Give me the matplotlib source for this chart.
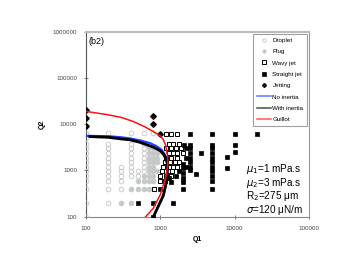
import numpy as np
import matplotlib.pyplot as plt
from matplotlib.ticker import LogLocator, FuncFormatter

plt.rcParams['font.family'] = ['Liberation Sans', 'DejaVu Sans']
plt.rcParams['mathtext.fontset'] = 'dejavusans'

# droplet (open grey circles)
drop_q1 = [100]*14 + [200]*12 + [300]*5 + [400]*9 + [500]*2 + [600]*8 + [800]
drop_q2 = [100, 200, 400, 600, 750, 950, 1200, 1500, 1900, 2400, 3000, 3800, 5000, 6500,
           200, 400, 600, 750, 950, 1200, 1500, 1900, 2400, 3000, 3800, 6500,
           400, 600, 750, 950, 1200,
           750, 950, 1200, 1500, 1900, 2400, 3000, 3800, 6500,
           750, 950,
           950, 1200, 1500, 1900, 2400, 3000, 3800, 6500,
           6500]

# plug (filled grey circles)
plug_q1 = [300, 400, 400, 500, 600, 700, 500, 600, 700, 800, 600, 700, 800,
           700, 800, 900, 700, 700, 700, 700, 700, 800, 800, 800, 800, 800, 900, 900, 900]
plug_q2 = [200, 200, 400, 400, 400, 400, 600, 600, 600, 600, 750, 750, 750,
           950, 950, 950, 1200, 1500, 1900, 2400, 3000, 1200, 1500, 1900, 2400, 3000, 1500, 1900, 2400]

# wavy jet (open squares)
wavy_q1 = [1200, 1400, 1650, 1300, 1500, 1800, 1200, 1400, 1600, 1900,
           1300, 1500, 1700, 2000, 1200, 1400, 1650, 1150, 1350, 1550, 1800,
           1100, 1300, 1500, 1700, 1050, 1250, 1450, 1000, 1200, 1400, 1000, 1150, 820]
wavy_q2 = [6000, 6000, 6000, 3800, 3800, 3800, 3000, 3000, 3000, 3000,
           2400, 2400, 2400, 2400, 1900, 1900, 1900, 1500, 1500, 1500, 1500,
           1200, 1200, 1200, 1200, 950, 950, 950, 750, 750, 750, 600, 600, 400]

# straight jet (filled squares)
straight_q1 = [800, 500, 800, 1500, 1000, 2000, 5000, 1400, 2000, 5000,
               1300, 1600, 2000, 3000, 5000, 1800, 2000, 2500, 5000,
               2000, 2200, 2500, 5000, 8000, 2000, 2500, 5000,
               2200, 2500, 5000, 8000, 2500, 3500, 5000, 10000,
               2200, 2500, 5000, 2100, 2500, 5000, 10000,
               2500, 5000, 10000, 20000]
straight_q2 = [100, 200, 200, 200, 400, 400, 400, 550, 550, 600,
               700, 750, 700, 830, 750, 950, 900, 1000, 950,
               1100, 1200, 1200, 1200, 1100, 1400, 1500, 1500,
               1900, 1900, 1900, 2000, 2400, 2400, 2400, 2500,
               3000, 3000, 3000, 3600, 3600, 3600, 3600,
               6000, 6000, 6000, 6000]

# jetting (diamonds)
jet_q1 = [100, 100, 100, 800, 800, 1000]
jet_q2 = [20000, 13500, 9000, 15000, 10000, 6000]

# model curves
noin_q1 = [100, 200, 300, 400, 550, 725, 900, 1040, 1150, 1210, 1245, 1250, 1230, 1210, 1100, 910, 810]
noin_q2 = [5600, 5500, 5200, 4900, 4400, 3900, 3300, 2780, 2200, 1800, 1400, 1120, 800, 570, 290, 150, 100]
inert_q1 = [113, 200, 300, 390, 520, 655, 800, 1000, 1100, 1180, 1240, 1250, 1230, 1210, 1100, 910, 810]
inert_q2 = [5400, 5200, 4800, 4600, 4100, 3600, 3200, 2650, 2250, 1840, 1400, 1120, 800, 570, 290, 150, 100]
guil_q1 = [100, 200, 300, 430, 600, 800, 1000, 1100, 1180, 1250, 1260, 1180, 1000, 800, 620]
guil_q2 = [19000, 16000, 14000, 11500, 9000, 7000, 5600, 4600, 3500, 2000, 1300, 700, 300, 150, 95]

fig = plt.figure(figsize=(3.54, 2.71), dpi=100)
ax = fig.add_axes([0.243, 0.201, 0.630, 0.681])

ax.plot(drop_q1, drop_q2, 'o', ms=3.4, mfc='none', mec='#c4c4c4', mew=0.6, label='Droplet', zorder=3)
ax.plot(plug_q1, plug_q2, 'o', ms=3.4, mfc='#c4c8c8', mec='#c4c8c8', mew=0.6, label='Plug', zorder=3)
ax.plot(wavy_q1, wavy_q2, 's', ms=3.5, mfc='white', mec='black', mew=0.7, label='Wavy jet', zorder=4)
ax.plot(straight_q1, straight_q2, 's', ms=3.5, mfc='black', mec='black', mew=0.5, label='Straight jet', zorder=4)
ax.plot(jet_q1, jet_q2, 'D', ms=2.8, mfc='black', mec='black', label='Jetting', zorder=4)
ax.plot(noin_q1, noin_q2, '-', color='#2040ff', lw=1.6, label='No inertia', zorder=5)
ax.plot(inert_q1, inert_q2, '-', color='black', lw=2.0, label='With inertia', zorder=6)
ax.plot(guil_q1, guil_q2, '-', color='#ff1010', lw=1.1, label='Guillot', zorder=7)

ax.set_xscale('log')
ax.set_yscale('log')
ax.set_xlim(100, 100000)
ax.set_ylim(100, 1000000)
ax.xaxis.set_major_locator(LogLocator(base=10, numticks=10))
ax.yaxis.set_major_locator(LogLocator(base=10, numticks=10))
ax.minorticks_off()
fmt = FuncFormatter(lambda v, p: '%d' % v)
ax.xaxis.set_major_formatter(fmt)
ax.yaxis.set_major_formatter(fmt)
ax.tick_params(direction='inout', length=3, width=0.5, labelsize=4.5, colors='#444444', pad=5)

ax.spines['left'].set_color('#555555')
ax.spines['left'].set_linewidth(0.8)
ax.spines['bottom'].set_color('#888888')
ax.spines['bottom'].set_linewidth(0.8)
ax.spines['top'].set_color('#bbbbbb')
ax.spines['top'].set_linewidth(1.5)
ax.spines['right'].set_color('#999999')
ax.spines['right'].set_linewidth(0.8)

ax.set_xlabel('Q1', fontsize=5, fontweight='bold', labelpad=4)
ax.set_ylabel('Q2', fontsize=5, fontweight='bold', labelpad=5)

ax.text(0.01, 0.975, '(b2)', transform=ax.transAxes, fontsize=6.5, va='top', ha='left')

leg = ax.legend(loc='upper right', fontsize=4.5, frameon=True, fancybox=False,
                edgecolor='#888888', handlelength=2.2, handletextpad=0.3,
                borderaxespad=0.3, labelspacing=0.95, borderpad=0.6, markerscale=0.7)
leg.get_frame().set_linewidth(0.8)
for h in leg.get_lines()[5:]:
    h.set_linewidth(1.1)
    h.set_alpha(0.7)

params = [r'$\mu_1$=1 mPa.s', r'$\mu_2$=3 mPa.s', r'R$_2$=275 μm', r'$\sigma$=120 μN/m']
ys = [169, 183, 196, 210]
for s, y in zip(params, ys):
    fig.text(246 / 354, 1 - y / 271, s, fontsize=7.2, ha='left', va='center')

fig.savefig('out.png', dpi=100)
